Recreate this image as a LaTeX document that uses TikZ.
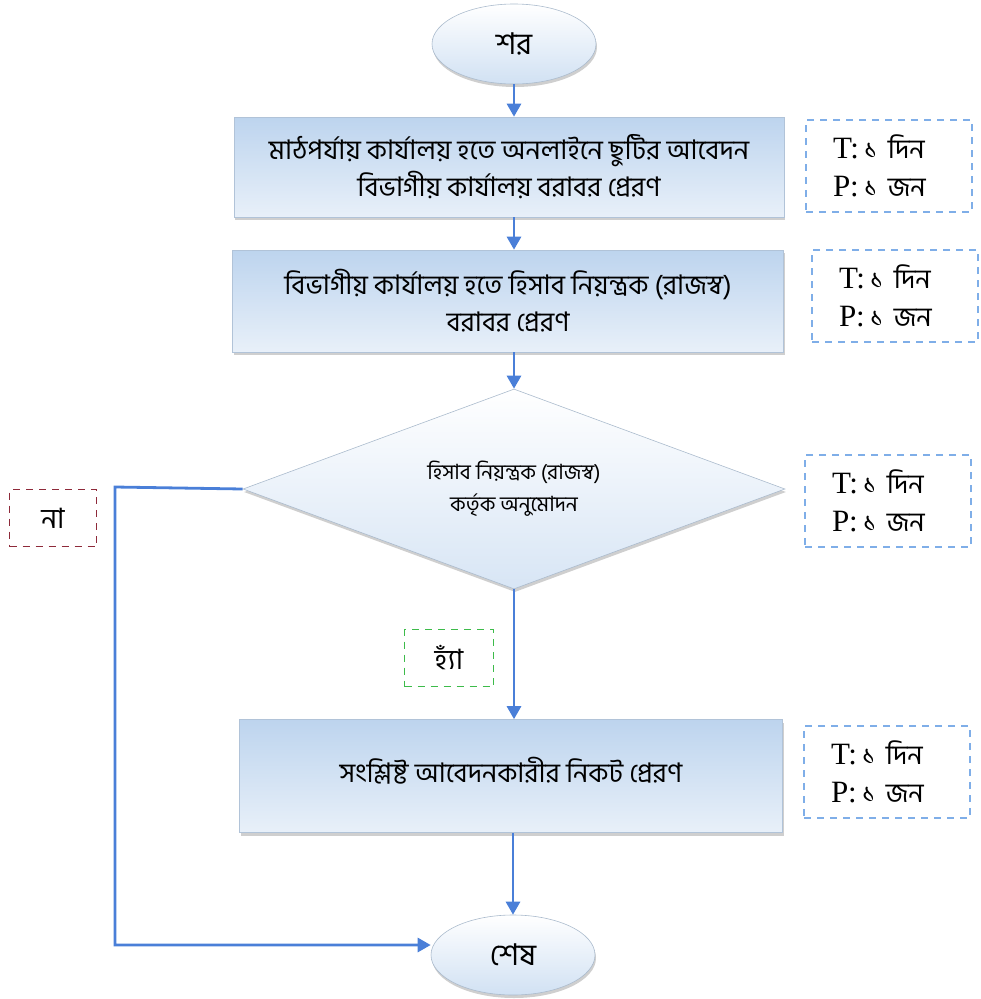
\documentclass[tikz,border=0pt]{standalone}
\usepackage{fontspec}
\setmainfont{Liberation Serif}
\newfontfamily\bn[Script=Bengali]{Hind Siliguri}
\usetikzlibrary{shapes.geometric,shadows,arrows.meta}
\definecolor{conn}{HTML}{4A7FD8}
\definecolor{boxtop}{HTML}{BDD4EE}
\definecolor{boxbot}{HTML}{E8F0F9}
\definecolor{tpblue}{HTML}{7FAEE8}
\definecolor{nared}{HTML}{8E2A3A}
\definecolor{hagreen}{HTML}{3DBB4A}
\tikzset{
  procbox/.style={draw=boxtop!80!gray, line width=0.6pt, top color=boxtop, bottom color=boxbot,
    drop shadow={shadow xshift=1pt, shadow yshift=-3pt, fill=gray!75}, inner sep=0pt},
  termin/.style={ellipse, draw=boxtop!70!gray, line width=0.6pt, top color=white, bottom color=boxtop!70,
    drop shadow={shadow xshift=1pt, shadow yshift=-3pt, fill=gray!75}, inner sep=0pt},
  decis/.style={diamond, draw=boxtop!70!gray, line width=0.6pt, top color=white, bottom color=boxtop!60,
    drop shadow={shadow xshift=1pt, shadow yshift=-3pt, fill=gray!75}, inner sep=0pt, aspect=2.7},
  tpbox/.style={draw=tpblue, dashed, dash pattern=on 7pt off 6pt, line width=1.2pt, minimum width=166pt, minimum height=92pt,
    text width=112pt, align=left, font=\fontsize{31}{38}\selectfont},
  lblbox/.style={dashed, dash pattern=on 7pt off 6pt, line width=1.2pt, minimum height=57pt, font=\bn\fontsize{28}{30}\selectfont},
  conline/.style={draw=conn, line width=2.8pt},
  conarrow/.style={conline, -{Triangle[length=13pt,width=14pt]}},
  boxtext/.style={font=\bn\fontsize{27}{37}\selectfont, align=center},
}
\begin{document}
\begin{tikzpicture}[x=1pt,y=-1pt]
\useasboundingbox (0,0) rectangle (981,999);
% start
\node[termin, minimum width=164pt, minimum height=80pt, font=\bn\fontsize{30}{32}\selectfont] (start) at (514,44) {শর};
% box1
\node[procbox, minimum width=550pt, minimum height=100pt, boxtext] (b1) at (509,167)
  {মাঠপর্যায় কার্যালয় হতে অনলাইনে ছুটির আবেদন\\ বিভাগীয় কার্যালয় বরাবর প্রেরণ};
% box2
\node[procbox, minimum width=551pt, minimum height=102pt, boxtext] (b2) at (508,301)
  {বিভাগীয় কার্যালয় হতে হিসাব নিয়ন্ত্রক (রাজস্ব)\\ বরাবর প্রেরণ};
% diamond
\node[decis, minimum width=542pt, minimum height=200pt, align=center, font=\bn\fontsize{21}{32}\selectfont] (d) at (514,489)
  {হিসাব নিয়ন্ত্রক (রাজস্ব)\\ কর্তৃক অনুমোদন};
% box4
\node[procbox, minimum width=543pt, minimum height=113pt] (b4) at (511,776) {};
\node[boxtext] (b4t) at (511,771) {সংশ্লিষ্ট আবেদনকারীর নিকট প্রেরণ};
% end
\node[termin, minimum width=164pt, minimum height=80pt, font=\bn\fontsize{30}{32}\selectfont] (stop) at (513,955) {শেষ};
% T/P boxes
\newcommand{\tpt}{T:\,{\bn\fontsize{27}{38}\selectfont ১ দিন}\\ P:\,{\bn\fontsize{27}{38}\selectfont ১ জন}}
\node[tpbox] (tp1) at (889,166) {\tpt};
\node[tpbox] (tp2) at (895,296) {\tpt};
\node[tpbox] (tp3) at (888,501) {\tpt};
\node[tpbox] (tp4) at (887,772) {\tpt};
% labels
\node[lblbox, draw=nared, minimum width=87pt] (na) at (53,518) {না};
\node[lblbox, draw=hagreen, minimum width=89pt] (ha) at (449,658) {হ্যাঁ};
% connectors
\draw[conarrow] (start.south) -- (start.south |- b1.north);
\draw[conarrow] (start.south |- b1.south) -- (start.south |- b2.north);
\draw[conarrow] (d.north |- b2.south) -- (d.north);
\draw[conarrow] (d.south) -- (d.south |- b4.north);
\draw[conarrow] (stop.north |- b4.south) -- (stop.north);
\coordinate (c1) at (115,487);
\coordinate (c2) at (115,945);
\draw[conarrow] (d.west) -- (c1) -- (c2) -- (stop.west |- c2);
\end{tikzpicture}
\end{document}
